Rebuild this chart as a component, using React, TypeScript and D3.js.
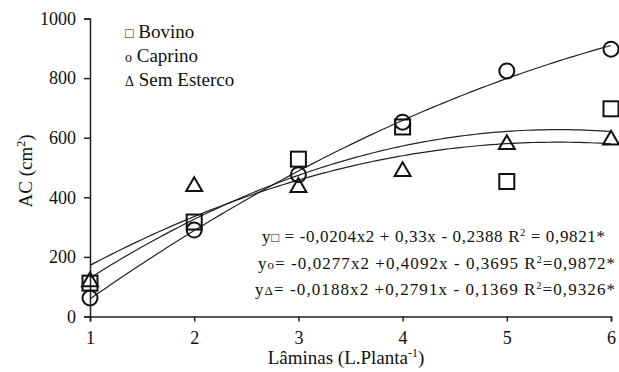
import React, { useRef, useEffect } from "react";
import * as d3 from "d3";

// Lâminas (L/planta) on the x axis
const laminas = [1, 2, 3, 4, 5, 6];

// AC (cm²) for each manure type
const bovino = [112, 317, 528, 636, 453, 697];
const caprino = [62, 290, 476, 652, 824, 897];
const semEsterco = [120, 440, 437, 490, 581, 596];

const yTicks = [0, 200, 400, 600, 800, 1000];

const equations = [
  { sym: "□", text: " = -0,0204x2 + 0,33x - 0,2388 R", r2: " = 0,9821*" },
  { sym: "o", text: "= -0,0277x2 +0,4092x - 0,3695 R", r2: "=0,9872*" },
  { sym: "Δ", text: "= -0,0188x2 +0,2791x - 0,1369 R", r2: "=0,9326*" },
];

// least squares quadratic fit, like the spreadsheet trendline
function quadFit(xs: number[], ys: number[]) {
  const s = [0, 0, 0, 0, 0];
  const t = [0, 0, 0];
  xs.forEach((xv, i) => {
    for (let k = 0; k < 5; k++) s[k] += Math.pow(xv, k);
    for (let k = 0; k < 3; k++) t[k] += ys[i] * Math.pow(xv, k);
  });
  // solve the 3x3 normal equations
  const m = [
    [s[0], s[1], s[2], t[0]],
    [s[1], s[2], s[3], t[1]],
    [s[2], s[3], s[4], t[2]],
  ];
  for (let c = 0; c < 3; c++) {
    for (let r = c + 1; r < 3; r++) {
      const f = m[r][c] / m[c][c];
      for (let k = c; k < 4; k++) m[r][k] -= f * m[c][k];
    }
  }
  const b = [0, 0, 0];
  for (let r = 2; r >= 0; r--) {
    let v = m[r][3];
    for (let k = r + 1; k < 3; k++) v -= m[r][k] * b[k];
    b[r] = v / m[r][r];
  }
  return (x: number) => b[0] + b[1] * x + b[2] * x * x;
}

const font =
  '"Liberation Serif", Tinos, "Times New Roman", Times, "Noto Serif", "DejaVu Serif", FreeSerif, "Nimbus Roman", serif';

function Chart() {
  const ref = useRef<SVGSVGElement>(null);

  useEffect(() => {
    const svg = d3.select(ref.current).html("");

    const x = d3.scaleLinear().domain([1, 6]).range([90, 611]);
    const y = d3.scaleLinear().domain([0, 1000]).range([316.5, 18.5]);

    // axes
    const yAxis = svg
      .append("g")
      .attr("transform", "translate(90,0)")
      .call(
        d3.axisLeft(y).tickValues(yTicks).tickFormat(d3.format("d")).tickSize(6).tickPadding(8)
      );
    const xAxis = svg
      .append("g")
      .attr("transform", "translate(0,316.5)")
      .call(
        d3.axisBottom(x).tickValues(laminas).tickFormat(d3.format("d")).tickSize(5).tickPadding(10)
      );
    [xAxis, yAxis].forEach((g) => {
      g.attr("font-family", null).attr("font-size", null);
      g.selectAll("path").attr("stroke", "#222").attr("stroke-width", 1.5);
      g.selectAll("line").attr("stroke", "#222").attr("stroke-width", 1.5);
      g.selectAll("text").style("font-size", "18px").attr("fill", "#111");
    });

    // trend curves
    const series = [bovino, caprino, semEsterco];
    const grid = d3.range(1, 6.001, 0.05);
    series.forEach((vals) => {
      const f = quadFit(laminas, vals);
      svg
        .append("path")
        .attr(
          "d",
          d3
            .line<number>()
            .x((d) => x(d))
            .y((d) => y(f(d)))(grid)
        )
        .attr("fill", "none")
        .attr("stroke", "#222")
        .attr("stroke-width", 1.2);
    });

    // markers
    svg
      .append("g")
      .selectAll("rect")
      .data(bovino)
      .join("rect")
      .attr("x", (d, i) => x(laminas[i]) - 7.5)
      .attr("y", (d) => y(d) - 7.5)
      .attr("width", 15)
      .attr("height", 15)
      .attr("fill", "none")
      .attr("stroke", "#111")
      .attr("stroke-width", 2);
    svg
      .append("g")
      .selectAll("circle")
      .data(caprino)
      .join("circle")
      .attr("cx", (d, i) => x(laminas[i]))
      .attr("cy", (d) => y(d))
      .attr("r", 7.5)
      .attr("fill", "none")
      .attr("stroke", "#111")
      .attr("stroke-width", 2);
    svg
      .append("g")
      .selectAll("path")
      .data(semEsterco)
      .join("path")
      .attr("d", d3.symbol(d3.symbolTriangle, 110))
      .attr("transform", (d, i) => `translate(${x(laminas[i])},${y(d) + 1})`)
      .attr("fill", "none")
      .attr("stroke", "#111")
      .attr("stroke-width", 2);

    // legend
    const legend = [
      { sym: "□", label: " Bovino" },
      { sym: "o", label: " Caprino" },
      { sym: "Δ", label: " Sem Esterco" },
    ];
    legend.forEach((l, i) => {
      const t = svg
        .append("text")
        .attr("x", 125)
        .attr("y", 38 + i * 24)
        .style("font-size", "19px")
        .attr("fill", "#111");
      t.append("tspan").style("font-size", "14px").text(l.sym);
      t.append("tspan").text(l.label);
    });

    // equations
    const eqX = [262, 258, 255];
    const eqW = [343, 357, 360];
    equations.forEach((e, i) => {
      const t = svg
        .append("text")
        .attr("x", eqX[i])
        .attr("y", 242 + i * 26.5)
        .style("font-size", "17px")
        .attr("fill", "#111")
        .attr("textLength", eqW[i])
        .attr("lengthAdjust", "spacing");
      t.append("tspan").text("y");
      t.append("tspan").style("font-size", "13px").text(e.sym);
      t.append("tspan").text(e.text);
      t.append("tspan").style("font-size", "10px").attr("dy", -6).text("2");
      t.append("tspan").attr("dy", 6).text(e.r2);
    });

    // axis titles
    const xt = svg
      .append("text")
      .attr("x", 346)
      .attr("y", 364)
      .attr("text-anchor", "middle")
      .style("font-size", "19px")
      .attr("fill", "#111");
    xt.append("tspan").text("Lâminas (L.Planta");
    xt.append("tspan").style("font-size", "12px").attr("dy", -7).text("-1");
    xt.append("tspan").attr("dy", 7).text(")");

    const yt = svg
      .append("text")
      .attr("transform", "translate(32,171) rotate(-90)")
      .attr("text-anchor", "middle")
      .style("font-size", "19px")
      .attr("fill", "#111");
    yt.append("tspan").text("AC (cm");
    yt.append("tspan").style("font-size", "12px").attr("dy", -7).text("2");
    yt.append("tspan").attr("dy", 7).text(")");
  }, []);

  return (
    <svg
      ref={ref}
      width={619}
      height={372}
      style={{ position: "absolute", left: 0, top: 0, background: "#fff", fontFamily: font }}
    />
  );
}

export default function App() {
  return <Chart />;
}
